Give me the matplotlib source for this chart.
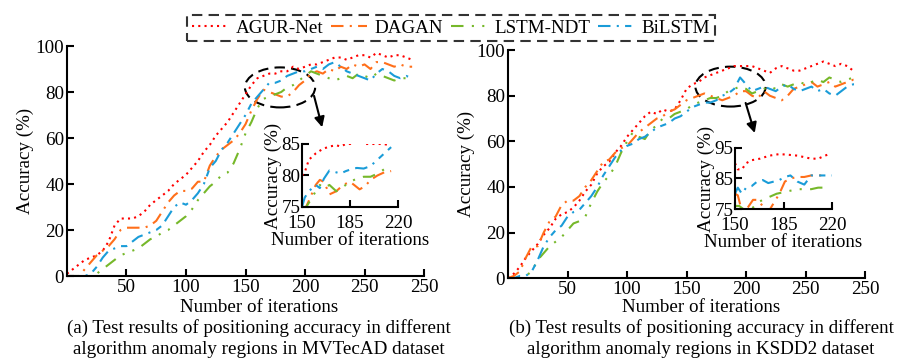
import matplotlib
matplotlib.use("Agg")
import matplotlib.pyplot as plt
from matplotlib.patches import Ellipse

plt.rcParams['font.family'] = ['Liberation Serif', 'DejaVu Serif']
plt.rcParams['font.size'] = 13.7

names = ["AGUR-Net", "DAGAN", "LSTM-NDT", "BiLSTM"]
colors = ["#FF0000", "#FF6F1A", "#76B82A", "#1A9CD8"]
styles = [(0, (1, 2)), (0, (6, 3, 1, 3)), (0, (6, 4, 1, 4, 1, 4)), (0, (6, 3, 1, 3, 3, 3))]

# ---- left panel (MVTecAD) ----
xa = list(range(0, 295, 5))
left_agur = [1, 3, 5, 7, 8, 9, 11, 15, 22, 25, 25, 25, 26, 28, 31, 33, 35, 37, 40, 42,
             44, 47, 50, 54, 57, 61, 64, 67, 71, 75, 79, 83, 86, 87, 88, 88, 89, 89, 91, 90,
             91, 92, 92, 93, 94, 95, 95, 94, 95, 96, 96, 95, 97, 96, 95, 96, 96, 95, 94]
left_dagan = [0, 0, 0, 3, 6, 9, 11, 13, 16, 20, 21, 21, 21, 21, 22, 24, 28, 32, 35, 37,
              37, 38, 41, 41, 48, 52, 55, 57, 59, 62, 66, 72, 77, 81, 80, 79, 78, 78, 80, 83,
              85, 88, 89, 88, 90, 89, 91, 90, 92, 91, 92, 90, 93, 93, 92, 91, 92, 91, 91]
left_lstm = [0, 0, 0, 0, 0, 1, 3, 5, 7, 9, 10, 11, 12, 14, 16, 17, 19, 20, 22, 24,
             26, 29, 33, 36, 39, 41, 44, 45, 49, 55, 62, 67, 73, 77, 78, 79, 80, 82, 83, 85,
             87, 89, 88, 87, 86, 85, 86, 87, 86, 88, 87, 86, 88, 87, 86, 85, 86, 86, 85]
left_bilstm = [0, 0, 0, 0, 1, 4, 8, 11, 12, 13, 13, 15, 17, 18, 19, 20, 22, 26, 30, 32,
               31, 33, 36, 40, 47, 50, 55, 58, 62, 66, 70, 75, 78, 81, 84, 84, 85, 87, 88, 89,
               89, 90, 91, 90, 92, 93, 91, 89, 88, 87, 86, 85, 88, 90, 89, 87, 86, 87, 86]

# ---- right panel (KSDD2) ----
xb = list(range(0, 300, 5))
right_agur = [0, 2, 5, 9, 12, 15, 19, 22, 26, 28, 29, 31, 34, 38, 41, 46, 49, 51, 55, 58,
              62, 65, 68, 71, 73, 72, 74, 73, 74, 78, 83, 85, 86, 88, 89, 90, 91, 92, 93, 93,
              93, 93, 92, 91, 90, 92, 93, 92, 91, 91, 92, 93, 94, 95, 94, 93, 94, 93, 91]
right_dagan = [0, 1, 3, 9, 14, 14, 20, 25, 27, 32, 34, 34, 36, 40, 43, 47, 51, 52, 55, 57,
               58, 61, 64, 66, 68, 70, 71, 73, 74, 76, 78, 79, 80, 81, 80, 79, 78, 79, 80, 82,
               82, 80, 79, 82, 80, 79, 78, 80, 83, 84, 85, 86, 84, 85, 86, 84, 85, 86, 87, 87]
right_lstm = [0, 0, 0, 1, 3, 8, 11, 14, 16, 18, 21, 24, 25, 27, 33, 38, 42, 45, 49, 55,
              60, 64, 62, 61, 65, 67, 70, 70, 72, 73, 74, 76, 77, 78, 79, 79, 80, 82, 83, 84,
              83, 81, 82, 83, 84, 83, 85, 84, 85, 86, 85, 86, 87, 86, 88, 87, 86, 87, 88, 88]
right_bilstm = [0, 0, 1, 1, 3, 8, 14, 18, 21, 23, 27, 29, 30, 33, 36, 40, 45, 49, 53, 56,
                58, 59, 61, 62, 64, 66, 67, 68, 70, 71, 73, 75, 76, 77, 77, 78, 80, 81, 83, 88,
                85, 82, 83, 84, 83, 82, 84, 85, 83, 82, 83, 84, 82, 83, 81, 80, 82, 84, 85, 85]

# ---- insets (150-220) ----
ia_x = [[150, 152, 155, 160, 165, 170, 175, 178, 182, 185, 190, 193, 196, 200, 205, 210, 213],
        [150, 153, 156, 160, 163, 166, 170, 175, 180, 185, 188, 192, 196, 200, 205, 210, 215],
        [150, 153, 156, 160, 163, 166, 170, 175, 180, 185, 190, 195, 200, 205, 210, 215],
        [150, 152, 155, 160, 163, 166, 170, 175, 178, 182, 186, 190, 195, 200, 205, 210, 215]]
ia_y = [[80, 80.5, 82.5, 83.5, 84.2, 84.6, 84.8, 84.6, 85, 85, 85.3, 85.5, 85, 85, 85, 85, 84.8],
        [74.5, 75, 76.5, 78.5, 79.3, 79, 77, 77.5, 78.5, 79, 78.5, 77.8, 78.3, 79.3, 80, 80.5, 80.7],
        [74.3, 75, 76, 77.5, 78.5, 78, 78.5, 77.5, 78.2, 79, 79.5, 79.8, 79.8, 80.3, 81, 81.5],
        [75, 76.5, 77.5, 78.5, 78, 79.5, 80.8, 80.5, 80.3, 80.7, 81, 81.2, 81.1, 81.5, 82.5, 83.5, 84.5]]

ib_x = [[150, 152, 155, 158, 162, 168, 175, 182, 188, 195, 200, 205, 210, 215, 218],
        [150, 152, 154, 157, 160, 163, 166, 170, 174, 178, 182, 186, 190, 195, 200, 205, 210, 215],
        [150, 153, 156, 159, 162, 166, 170, 175, 180, 185, 190, 195, 200, 205, 210, 215],
        [150, 152, 155, 158, 162, 166, 170, 174, 178, 182, 186, 190, 195, 200, 205, 210, 215, 220]]
ib_y = [[90, 88, 88, 90, 91, 91.5, 92.5, 93, 92.8, 92.5, 92, 91.5, 91.5, 92.5, 93],
        [80, 79.5, 76, 74, 76, 78, 78, 76, 74, 77, 80, 84, 85, 85.5, 85.5, 86, 86, 86],
        [76, 76, 75, 74, 75, 77, 78, 79, 80, 80.5, 81, 81.5, 81.5, 81.5, 82, 82],
        [80, 82, 80, 82, 82.5, 84, 84.5, 83.5, 84, 84.5, 85.5, 86, 84, 83, 86, 86, 86, 86]]


def style_axes(ax):
    for s in ['top', 'right']:
        ax.spines[s].set_visible(False)
    for s in ['left', 'bottom']:
        ax.spines[s].set_linewidth(1.5)
    ax.tick_params(direction='in', length=5, width=1.5, pad=2)


fig = plt.figure(figsize=(8.98, 3.58), dpi=100)

axL = fig.add_axes([0.0746, 0.229, 0.3976, 0.6425])
axR = fig.add_axes([0.5657, 0.223, 0.3976, 0.637])

panels = [(axL, xa, [left_agur, left_dagan, left_lstm, left_bilstm]),
          (axR, xb, [right_agur, right_dagan, right_lstm, right_bilstm])]

handles = []
for ax, xs, series in panels:
    for i, ys in enumerate(series):
        ln, = ax.plot(xs[:len(ys)], ys, color=colors[i], linestyle=styles[i], lw=1.5, label=names[i])
        if ax is axL:
            handles.append(ln)
    ax.set_xlim(0, 300)
    ax.set_ylim(0, 100)
    ax.set_xticks([50, 100, 150, 200, 250, 300])
    ax.set_xticklabels(['50', '100', '150', '200', '250', '250'])
    ax.set_yticks([0, 20, 40, 60, 80, 100])
    style_axes(ax)

axL.set_ylabel("Accuracy (%)", labelpad=1)
axR.set_ylabel("Accuracy (%)", labelpad=1)

# zoom ellipses and arrows
axL.add_patch(Ellipse((179, 82), 59, 17.4, fill=False, ls=(0, (5, 3)), lw=1.5, ec='black'))
axR.add_patch(Ellipse((187, 84), 59, 17.5, fill=False, ls=(0, (5, 3)), lw=1.5, ec='black'))
axL.annotate("", xy=(215, 63.5), xytext=(207, 79.5),
             arrowprops=dict(arrowstyle='-|>', color='black', lw=1.5, mutation_scale=15))
axR.annotate("", xy=(208, 62.5), xytext=(199, 78),
             arrowprops=dict(arrowstyle='-|>', color='black', lw=1.5, mutation_scale=15))

# insets
inL = fig.add_axes([0.3363, 0.4218, 0.1069, 0.176])
inR = fig.add_axes([0.8185, 0.4162, 0.108, 0.1704])
for ax, xs, ys, yl, yt in [(inL, ia_x, ia_y, (75, 85), [75, 80, 85]),
                           (inR, ib_x, ib_y, (75, 95), [75, 85, 95])]:
    for i in range(4):
        ax.plot(xs[i], ys[i], color=colors[i], linestyle=styles[i], lw=1.5)
    ax.set_xlim(150, 220)
    ax.set_ylim(*yl)
    ax.set_xticks([150, 185, 220])
    ax.set_yticks(yt)
    ax.patch.set_alpha(0)
    style_axes(ax)
    ax.tick_params(axis='x', pad=6)
    ax.tick_params(axis='y', pad=1)
    ax.set_xlabel("Number of iterations", labelpad=0)
    ax.set_ylabel("Accuracy (%)", labelpad=0)

# x labels and captions
for cx, cap in [(259, ["(a) Test results of positioning accuracy in different",
                       "algorithm anomaly regions in MVTecAD dataset"]),
                (701, ["(b) Test results of positioning accuracy in different",
                       "algorithm anomaly regions in KSDD2 dataset"])]:
    fig.text(cx / 898, 1 - 307 / 358, "Number of iterations", ha='center', va='center')
    fig.text(cx / 898, 1 - 328 / 358, cap[0], ha='center', va='center')
    fig.text(cx / 898, 1 - 349 / 358, cap[1], ha='center', va='center')

leg = fig.legend(handles=handles, loc='center', bbox_to_anchor=(451 / 898, 1 - 28 / 358),
                 ncol=4, frameon=True, fancybox=False, handlelength=1.9, columnspacing=0.4,
                 handletextpad=0.4, borderpad=0.25, borderaxespad=0)
fr = leg.get_frame()
fr.set_edgecolor('black')
fr.set_linestyle((0, (5, 3)))
fr.set_linewidth(1.5)

fig.savefig("out.png", dpi=100)
